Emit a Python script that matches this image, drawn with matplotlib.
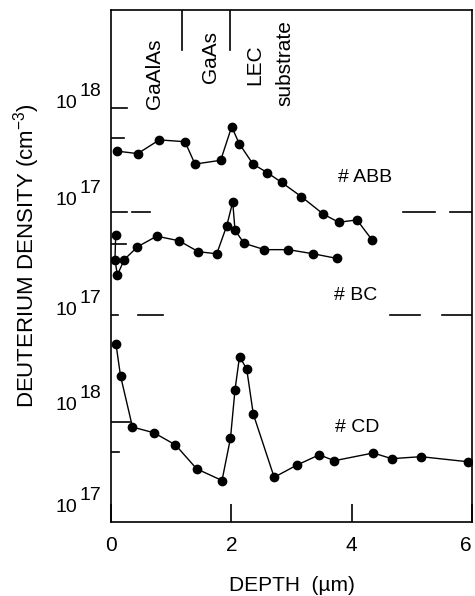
import numpy as np
from matplotlib import pyplot as plt
from matplotlib import transforms

plt.rcParams['font.family'] = ['Liberation Sans', 'DejaVu Sans']
plt.rcParams['mathtext.fontset'] = 'custom'
plt.rcParams['mathtext.rm'] = 'Liberation Sans'
plt.rcParams['mathtext.it'] = 'Liberation Sans:italic'

# Deuterium depth profiles: depth in um, density in cm^-3
abb_depth = [0.105, 0.444, 0.803, 1.230, 1.396, 1.823, 2.006, 2.131, 2.360, 2.601,
             2.837, 3.163, 3.527, 3.784, 4.088, 4.338]
abb_density = [3.7e17, 3.5e17, 4.8e17, 4.6e17, 2.75e17, 3.0e17, 6.5e17, 4.4e17, 2.75e17, 2.25e17,
               1.8e17, 1.3e17, 8.7e16, 7.2e16, 7.6e16, 4.8e16]

bc_depth = [0.078, 0.066, 0.105, 0.221, 0.440, 0.760, 1.130, 1.451, 1.757, 1.923,
            2.023, 2.061, 2.210, 2.551, 2.947, 3.362, 3.751]
bc_density = [6.2e17, 3.5e17, 2.45e17, 3.5e17, 4.7e17, 6.0e17, 5.4e17, 4.2e17, 4.0e17, 7.6e17,
              1.32e18, 6.9e17, 5.1e17, 4.4e17, 4.4e17, 4.0e17, 3.6e17]

cd_depth = [0.083, 0.158, 0.357, 0.715, 1.072, 1.424, 1.845, 1.986, 2.061, 2.136,
            2.255, 2.365, 2.712, 3.086, 3.462, 3.711, 4.359, 4.665, 5.152, 5.938]
cd_density = [6.0e18, 2.9e18, 8.9e17, 7.8e17, 5.9e17, 3.4e17, 2.6e17, 6.9e17, 2.1e18, 4.5e18,
              3.4e18, 1.2e18, 2.8e17, 3.7e17, 4.7e17, 4.1e17, 4.9e17, 4.3e17, 4.5e17, 4.0e17]

sample_names = ['# ABB', '# BC', '# CD']
layer_names = ['GaAlAs', 'GaAs', 'LEC', 'substrate']
layer_bounds = [1.18, 1.98]
x_ticks = [0, 2, 4, 6]

# each profile is a log scale shifted up by some decades (stacked plot)
offsets = [3.14, 2.08, 0.0]


def stack(density, off):
    return np.log10(density) - 17 + off


fig = plt.figure(figsize=(4.75, 5.96), dpi=100)
ax = fig.add_axes([111 / 475, 1 - 522 / 596, 361 / 475, 512 / 596])

profiles = [(abb_depth, abb_density), (bc_depth, bc_density), (cd_depth, cd_density)]
for (d, n), off in zip(profiles, offsets):
    ax.plot(d, stack(np.array(n), off), '-o', color='k', lw=1.0, ms=6)

ax.set_xlim(0, 6)
ax.set_ylim(0, 5.12)
ax.set_xticks(x_ticks)
ax.set_xticklabels([str(t) for t in x_ticks], fontsize=15)
ax.get_xticklabels()[-1].set_ha('right')
ax.tick_params(axis='x', direction='in', length=13, width=1.2, pad=10)
ax.set_yticks([])
for s in ax.spines.values():
    s.set_linewidth(1.2)

# short marks at 1e18 and 5e17 on the left axis
marks = [(1e18, 0, 0.27), (5e17, 0, 0.22), (5e17, 1, 0.25), (1e18, 2, 0.32), (5e17, 2, 0.13)]
for n, i, length in marks:
    y = stack(n, offsets[i])
    ax.plot([0, length], [y, y], color='k', lw=1.2)

# broken separator lines between profiles
for y, segs in [(3.10, [(0.02, 0.27), (0.35, 0.65), (4.85, 5.38), (5.63, 6.0)]),
                (2.07, [(0.02, 0.12), (0.45, 0.86), (4.64, 5.14), (5.50, 6.0)])]:
    for a, b in segs:
        ax.plot([a, b], [y, y], color='k', lw=1.2)

# layer boundaries at the top
for b in layer_bounds:
    ax.plot([b, b], [4.72, 5.12], color='k', lw=1.2)

ax.text(0.73, 4.48, layer_names[0], rotation=90, ha='center', va='center', fontsize=15)
ax.text(1.65, 4.65, layer_names[1], rotation=90, ha='center', va='center', fontsize=15)
ax.text(2.39, 4.57, layer_names[2], rotation=90, ha='center', va='center', fontsize=15)
ax.text(2.89, 4.59, layer_names[3], rotation=90, ha='center', va='center', fontsize=15)

ax.text(4.22, 3.45, sample_names[0], ha='center', va='center', fontsize=14)
ax.text(4.07, 2.27, sample_names[1], ha='center', va='center', fontsize=14)
ax.text(4.09, 0.95, sample_names[2], ha='center', va='center', fontsize=14)

# decade labels, written as "10" with a full size exponent
trans = transforms.blended_transform_factory(ax.transAxes, ax.transData)
decades = ['18', '17', '17', '18', '17']
base_y = [4.14, 3.17, 2.07, 1.12, 0.10]
for e, y in zip(decades, base_y):
    ax.text(-0.094, y, '10', transform=trans, ha='right', va='baseline', fontsize=14)
    ax.text(-0.086, y + 0.12, e, transform=trans, ha='left', va='baseline', fontsize=14)

ax.set_xlabel('DEPTH  (\u00b5m)', fontsize=15, labelpad=15)
ax.set_ylabel('DEUTERIUM DENSITY (cm$^{-3}$)', fontsize=16)
ax.yaxis.set_label_coords(-0.19, 0.52)

fig.savefig('out.png', dpi=100)
